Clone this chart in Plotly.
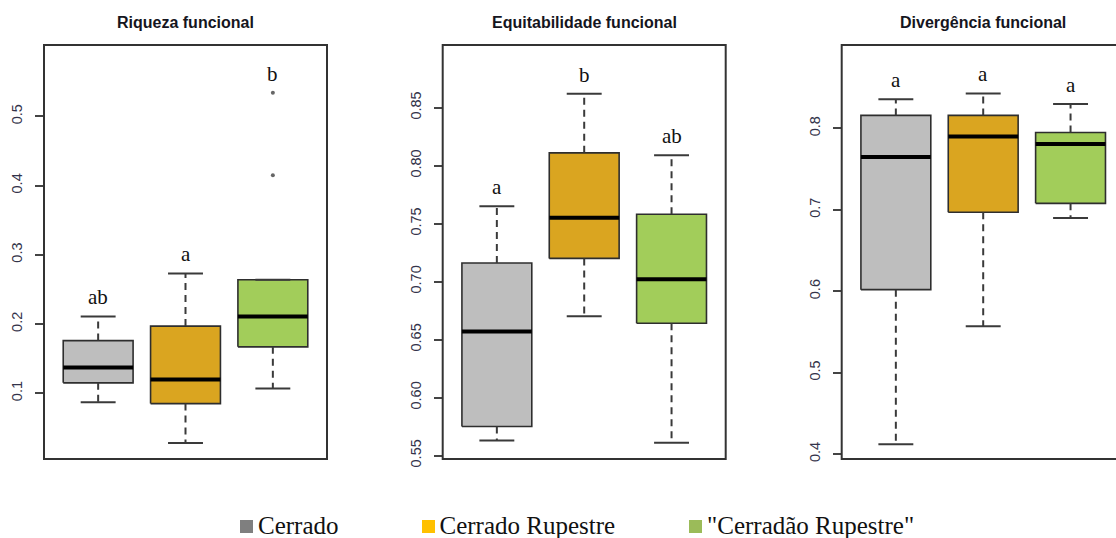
import plotly.graph_objects as go

# ---------------- data ----------------
groups = ["Cerrado", "Cerrado Rupestre", "\"Cerradão Rupestre\""]
fill_colors = ["#BEBEBE", "#DAA520", "#A2CD5A"]
legend_colors = ["#7F7F7F", "#FFC000", "#9BBB59"]

titles = ["Riqueza funcional", "Equitabilidade funcional", "Divergência funcional"]

riq_lo = [0.087, 0.028, 0.107]
riq_q1 = [0.115, 0.085, 0.167]
riq_med = [0.137, 0.120, 0.211]
riq_q3 = [0.176, 0.197, 0.264]
riq_hi = [0.211, 0.273, 0.264]
riq_out = [[], [], [0.415, 0.534]]
riq_letters = ["ab", "a", "b"]
riq_ticks = [0.1, 0.2, 0.3, 0.4, 0.5]

equ_lo = [0.563, 0.670, 0.561]
equ_q1 = [0.575, 0.720, 0.664]
equ_med = [0.657, 0.755, 0.702]
equ_q3 = [0.716, 0.811, 0.758]
equ_hi = [0.765, 0.862, 0.809]
equ_out = [[], [], []]
equ_letters = ["a", "b", "ab"]
equ_ticks = [0.55, 0.60, 0.65, 0.70, 0.75, 0.80, 0.85]

div_lo = [0.412, 0.557, 0.690]
div_q1 = [0.602, 0.697, 0.708]
div_med = [0.765, 0.790, 0.781]
div_q3 = [0.816, 0.816, 0.795]
div_hi = [0.836, 0.843, 0.830]
div_out = [[], [], []]
div_letters = ["a", "a", "a"]
div_ticks = [0.4, 0.5, 0.6, 0.7, 0.8]

panels = [
    dict(lo=riq_lo, q1=riq_q1, med=riq_med, q3=riq_q3, hi=riq_hi, out=riq_out,
         letters=riq_letters, ticks=riq_ticks, fmt=".1f", yrange=[0.005, 0.603]),
    dict(lo=equ_lo, q1=equ_q1, med=equ_med, q3=equ_q3, hi=equ_hi, out=equ_out,
         letters=equ_letters, ticks=equ_ticks, fmt=".2f", yrange=[0.547, 0.904]),
    dict(lo=div_lo, q1=div_q1, med=div_med, q3=div_q3, hi=div_hi, out=div_out,
         letters=div_letters, ticks=div_ticks, fmt=".1f", yrange=[0.394, 0.9025]),
]

# ---------------- layout geometry ----------------
W, H = 1116, 538
px_left = [44, 442.7, 841.7]
panel_w = 283.0
top_px, bot_px = 45, 459
units_per_px = 3.24 / panel_w

fig = go.Figure()
BW = 0.4   # half box width
CW = 0.2   # half cap width

annotations = []
shapes = []

for p, pan in enumerate(panels):
    xa = "x" if p == 0 else f"x{p+1}"
    ya = "y" if p == 0 else f"y{p+1}"
    for i in range(3):
        c = i + 1
        # box
        fig.add_trace(go.Scatter(
            x=[c - BW, c + BW, c + BW, c - BW, c - BW],
            y=[pan["q1"][i], pan["q1"][i], pan["q3"][i], pan["q3"][i], pan["q1"][i]],
            mode="lines", fill="toself", fillcolor=fill_colors[i],
            line=dict(color="#2e2e2e", width=1.6),
            xaxis=xa, yaxis=ya, showlegend=False, hoverinfo="skip"))
        # whiskers (dashed)
        fig.add_trace(go.Scatter(
            x=[c, c, None, c, c],
            y=[pan["q3"][i], pan["hi"][i], None, pan["q1"][i], pan["lo"][i]],
            mode="lines", line=dict(color="#3a3a3a", width=2, dash="7px,5px"),
            xaxis=xa, yaxis=ya, showlegend=False, hoverinfo="skip"))
        # caps
        fig.add_trace(go.Scatter(
            x=[c - CW, c + CW, None, c - CW, c + CW],
            y=[pan["hi"][i], pan["hi"][i], None, pan["lo"][i], pan["lo"][i]],
            mode="lines", line=dict(color="#3a3a3a", width=2),
            xaxis=xa, yaxis=ya, showlegend=False, hoverinfo="skip"))
        # median
        fig.add_trace(go.Scatter(
            x=[c - BW, c + BW], y=[pan["med"][i], pan["med"][i]],
            mode="lines", line=dict(color="#000000", width=4),
            xaxis=xa, yaxis=ya, showlegend=False, hoverinfo="skip"))
        # outliers
        if pan["out"][i]:
            fig.add_trace(go.Scatter(
                x=[c] * len(pan["out"][i]), y=pan["out"][i], mode="markers",
                marker=dict(color="#666666", size=4),
                xaxis=xa, yaxis=ya, showlegend=False, hoverinfo="skip"))
        # significance letters
        top_val = max([pan["hi"][i]] + pan["out"][i])
        annotations.append(dict(
            x=c, y=top_val, xref=xa, yref=ya, text=pan["letters"][i],
            showarrow=False, yanchor="bottom", yshift=5,
            font=dict(family="Liberation Serif", size=21, color="#111111")))

    # axes
    x0 = px_left[p] / W
    x1 = min((px_left[p] + panel_w) / W, 1.0)
    vis_w = min(panel_w, W - px_left[p])
    xr = [0.38, 0.38 + vis_w * units_per_px]
    ydom = [(H - bot_px) / H, (H - top_px) / H]
    xkey = "xaxis" if p == 0 else f"xaxis{p+1}"
    ykey = "yaxis" if p == 0 else f"yaxis{p+1}"
    fig.layout[xkey] = dict(domain=[x0, x1], range=xr, visible=False, fixedrange=True,
                            anchor=ya)
    fig.layout[ykey] = dict(domain=ydom, range=pan["yrange"], anchor=xa,
                            tickvals=pan["ticks"], tickformat=pan["fmt"],
                            ticks="outside", ticklen=8, tickwidth=1.5, tickcolor="#444444",
                            tickangle=-90, ticklabelstandoff=7, automargin=False,
                            tickfont=dict(family="Liberation Sans", size=14.5, color="#33334a"),
                            showgrid=False, zeroline=False, showline=False)
    # frame
    shapes.append(dict(type="rect", xref="paper", yref="paper",
                       x0=px_left[p] / W, x1=(px_left[p] + panel_w) / W,
                       y0=ydom[0], y1=ydom[1],
                       line=dict(color="#333333", width=2), layer="above"))
    # title
    annotations.append(dict(
        x=(px_left[p] + panel_w / 2) / W, y=(H - 22) / H, xref="paper", yref="paper",
        text=f"<b>{titles[p]}</b>", showarrow=False, xanchor="center", yanchor="middle",
        font=dict(family="Liberation Sans", size=16, color="#151520")))

# legend: squares + labels on a full-page overlay axis (pixel units, y from bottom)
leg_sq_px = [246.5, 428.5, 695.5]   # square centres
leg_text_px = [258, 439.5, 707]     # label left edges
leg_y_px = 527.5
fig.add_trace(go.Scatter(
    x=leg_sq_px, y=[H - 526.5] * 3, mode="markers",
    marker=dict(symbol="square", size=13, color=legend_colors, line=dict(width=0)),
    cliponaxis=False, xaxis="x4", yaxis="y4", showlegend=False, hoverinfo="skip"))
fig.add_trace(go.Scatter(
    x=leg_text_px, y=[H - leg_y_px] * 3, mode="text",
    text=groups, textposition="middle right", cliponaxis=False,
    textfont=dict(family="Liberation Serif", size=25, color="#111111"),
    xaxis="x4", yaxis="y4", showlegend=False, hoverinfo="skip"))
fig.layout["xaxis4"] = dict(domain=[0, 1], range=[0, W], visible=False, fixedrange=True,
                            anchor="y4")
fig.layout["yaxis4"] = dict(domain=[0, 1], range=[0, H], visible=False, fixedrange=True,
                            anchor="x4")

fig.update_layout(
    width=W, height=H, autosize=False, margin=dict(l=0, r=0, t=0, b=0, autoexpand=False),
    paper_bgcolor="white", plot_bgcolor="rgba(0,0,0,0)",
    annotations=annotations, shapes=shapes, showlegend=False)

post = (
    "var s='margin:0;padding:0;overflow:hidden';"
    "document.documentElement.style.cssText=s;document.body.style.cssText=s;"
)
fig.write_html("out.html", config={"displayModeBar": False}, post_script=post)
